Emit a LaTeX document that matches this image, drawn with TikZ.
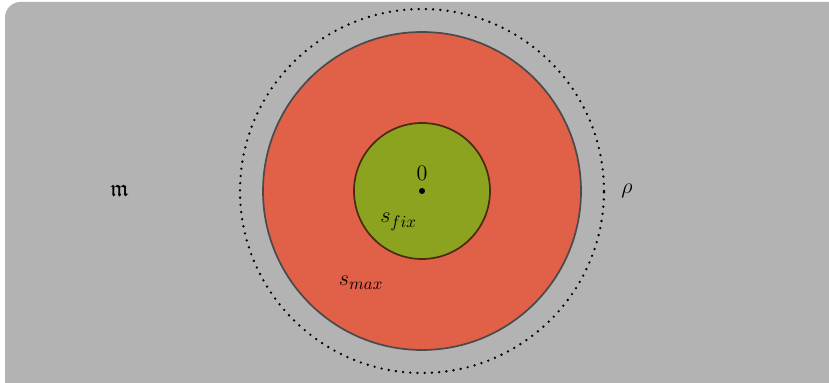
\documentclass[tikz,border=0pt]{standalone}
\usepackage{amsmath}
\usepackage{amssymb}
\usepackage{xcolor}
\usepackage{tikz}
\usetikzlibrary{positioning, calc}
\definecolor{bgGray}{HTML}{B3B3B3}
\definecolor{maxRed}{HTML}{E06048}
\definecolor{fixGreen}{HTML}{8BA31E}
\definecolor{maxEdge}{HTML}{4A4A4A}
\definecolor{fixEdge}{HTML}{4A2A12}

\begin{document}
\begin{tikzpicture}[
    x=0.65pt, y=0.65pt,
    every node/.style={font=\fontsize{15.5}{18}\selectfont, inner sep=0pt, anchor=base},
    ring/.style={line cap=round, dash pattern=on 0pt off 4.7pt, line width=1.7pt}
]
    \useasboundingbox (0,0) rectangle (829,382);
    \fill[bgGray, rounded corners=10] (5,-20) rectangle (850,380);

    \coordinate (origin) at (422,191);

    % regions
    \draw[ring] (origin) circle (182);
    \draw[fill=maxRed, draw=maxEdge, line width=1.1pt] (origin) circle (159);
    \draw[fill=fixGreen, draw=fixEdge, line width=1.1pt] (origin) circle (68);
    \fill (origin) circle (3);

    \node (zero) at (422,201) {$0$};
    \node (sfix) at (398.5,159) {$s_{fix}$};
    \node (smax) at (361,96) {$s_{max}$};
    \node (frakm) at (119.5,185) {$\mathfrak{m}$};
    \node (rho) at (627,188) {$\rho$};
\end{tikzpicture}
\end{document}
